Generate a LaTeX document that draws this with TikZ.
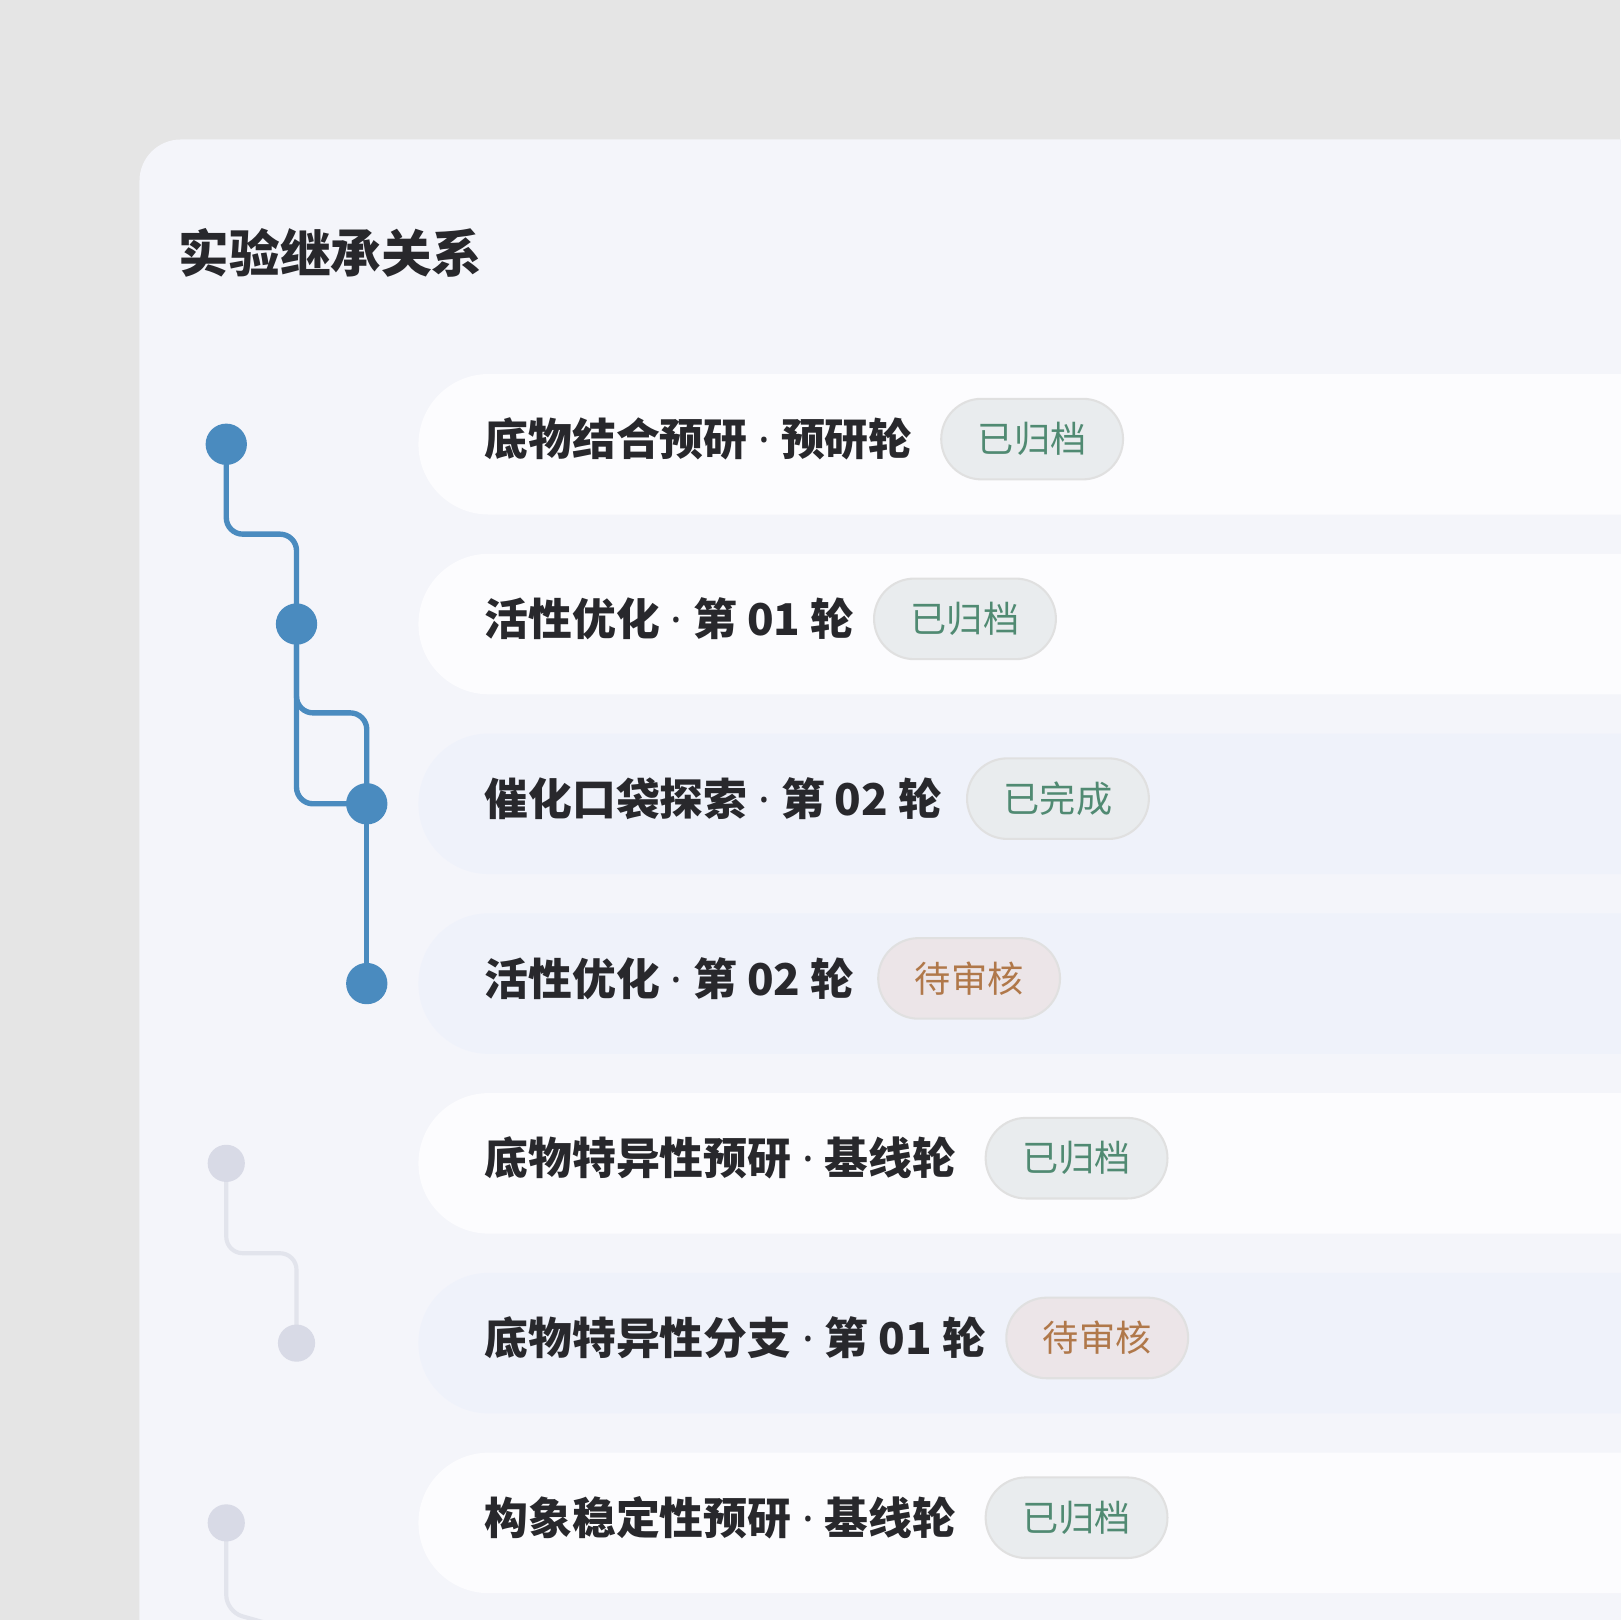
\documentclass[tikz,border=0pt]{standalone}
\usepackage{fontspec}
\setmainfont{Noto Sans CJK SC}
\newfontfamily\latinsf{Noto Sans}
\newcommand{\mydot}{\hspace{0.25em}{\latinsf\bfseries ·}\hspace{0.25em}}
\definecolor{cardbg}{RGB}{244,245,250}
\definecolor{roww}{RGB}{252,252,254}
\definecolor{rowb}{RGB}{239,242,250}
\definecolor{okt}{RGB}{80,138,114}
\definecolor{okf}{RGB}{233,236,238}
\definecolor{wt}{RGB}{176,120,74}
\definecolor{wf}{RGB}{236,229,232}
\definecolor{blu}{RGB}{74,139,191}
\definecolor{gd}{RGB}{216,218,230}
\definecolor{gln}{RGB}{226,228,236}
\definecolor{txt}{RGB}{40,40,44}
\begin{document}
\begin{tikzpicture}[x=0.5pt,y=-0.5pt,
  rowW/.style={fill=roww, draw=none},
  rowB/.style={fill=rowb, draw=none},
  lbl/.style={anchor=west, font=\fontsize{21.2}{25}\selectfont\bfseries, text=txt},
  pill/.style={rounded corners=19.5pt, minimum height=39pt, minimum width=88pt, draw=black!12, line width=1pt, font=\fontsize{17.5}{20}\selectfont, anchor=west, inner sep=0pt},
  ok/.style={pill, fill=okf, text=okt},
  wait/.style={pill, fill=wf, text=wt},
  dot/.style={circle, fill=blu, minimum size=20pt, inner sep=0pt},
  gdot/.style={circle, fill=gd, minimum size=18pt, inner sep=0pt},
  bl/.style={draw=blu, line width=2.6pt, rounded corners=8pt},
  gl/.style={draw=gln, line width=2pt, rounded corners=8pt}]
\useasboundingbox (0,0) rectangle (1568,1568);
\fill[gray!20] (0,0) rectangle (1568,1568);
\fill[cardbg] (1600,135) -- (175,135) arc[start angle=90,end angle=180,radius=20pt] -- (135,1600) -- (1600,1600) -- cycle;
\node[anchor=west, font=\fontsize{24.5}{28}\selectfont\bfseries, text=txt] (title) at (166,245) {实验继承关系};
\foreach \y/\s in {430/rowW,604/rowW,778/rowB,952/rowB,1126/rowW,1300/rowB,1474/rowW}{
  \path[\s] (1600,\y-68) -- (473,\y-68) arc[start angle=90,end angle=270,radius=34pt] -- (1600,\y+68) -- cycle;}
\node[lbl] (t1) at (462,425) {底物结合预研\mydot 预研轮};
\node[ok] (b1) at (910,425) {已归档};
\node[lbl] (t2) at (462,599) {活性优化\mydot 第 01 轮};
\node[ok] (b2) at (845,599) {已归档};
\node[lbl] (t3) at (462,773) {催化口袋探索\mydot 第 02 轮};
\node[ok] (b3) at (935,773) {已完成};
\node[lbl] (t4) at (462,947) {活性优化\mydot 第 02 轮};
\node[wait] (b4) at (849,947) {待审核};
\node[lbl] (t5) at (462,1121) {底物特异性预研\mydot 基线轮};
\node[ok] (b5) at (953,1121) {已归档};
\node[lbl] (t6) at (462,1295) {底物特异性分支\mydot 第 01 轮};
\node[wait] (b6) at (973,1295) {待审核};
\node[lbl] (t7) at (462,1469) {构象稳定性预研\mydot 基线轮};
\node[ok] (b7) at (953,1469) {已归档};
\coordinate (n1) at (219,430); \coordinate (n2) at (287,604);
\coordinate (n3) at (355,778); \coordinate (n4) at (355,952);
\coordinate (g1) at (219,1126); \coordinate (g2) at (287,1300);
\coordinate (g3) at (219,1474); \coordinate (gend) at (290,1580);
\draw[bl] (n1) -- (219,517) -- (287,517) -- (n2);
\draw[bl] (n2) -- (287,690) -- (355,690) -- (n3);
\draw[bl] (n2) -- (287,778) -- (n3);
\draw[bl] (n3) -- (n4);
\draw[gl] (g1) -- (219,1213) -- (287,1213) -- (g2);
\draw[gl] (g3) -- (219,1560) -- (gend);
\node[dot] (d1) at (n1) {}; \node[dot] (d2) at (n2) {};
\node[dot] (d3) at (n3) {}; \node[dot] (d4) at (n4) {};
\node[gdot] (e1) at (g1) {}; \node[gdot] (e2) at (g2) {}; \node[gdot] (e3) at (g3) {};
\end{tikzpicture}
\end{document}
